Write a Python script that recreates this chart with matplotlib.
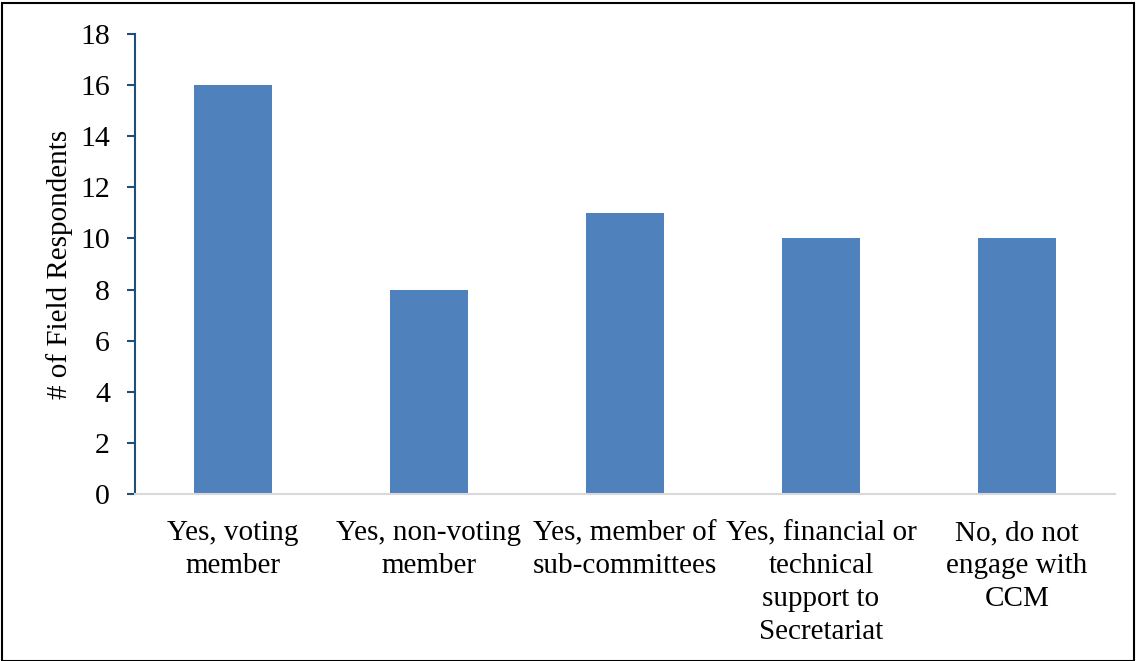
import matplotlib.pyplot as plt
import numpy as np
from matplotlib.patches import Rectangle

categories = ['Yes, voting\nmember', 'Yes, non-voting\nmember', 'Yes, member of\nsub-committees',
              'Yes, financial or\ntechnical\nsupport to\nSecretariat', 'No, do not\nengage with\nCCM']
respondents = [16, 8, 11, 10, 10]
yticks = [0, 2, 4, 6, 8, 10, 12, 14, 16, 18]

plt.rcParams['font.family'] = ['Liberation Serif', 'DejaVu Serif']

fig = plt.figure(figsize=(11.37, 6.61), dpi=100)
ax = fig.add_axes([135/1137, 1 - 494/661, (1115 - 135)/1137, (494 - 34)/661])

x = np.arange(len(categories))
ax.bar(x, respondents, width=0.4, color='#4F81BD')

ax.set_xlim(-0.5, 4.5)
ax.set_ylim(0, 18)
ax.set_yticks(yticks)
ax.set_xticks(x)
ax.set_xticklabels(categories, fontsize=21, linespacing=1.35)
ax.tick_params(axis='x', length=0, pad=19)
ax.tick_params(axis='y', labelsize=21.5, length=6, width=1.5, color='#1F4E79', pad=12)
ax.set_ylabel('# of Field Respondents', fontsize=21, labelpad=5)

for s in ['top', 'right']:
    ax.spines[s].set_visible(False)
ax.spines['left'].set_color('#1F4E79')
ax.spines['left'].set_linewidth(1.5)
ax.spines['bottom'].set_color('#D9D9D9')
ax.spines['bottom'].set_linewidth(1.5)

fig.patches.append(Rectangle((0.002, 0.0), 0.995, 0.996, transform=fig.transFigure,
                             fill=False, edgecolor='black', linewidth=1.5))

fig.savefig('out.png', dpi=100)
